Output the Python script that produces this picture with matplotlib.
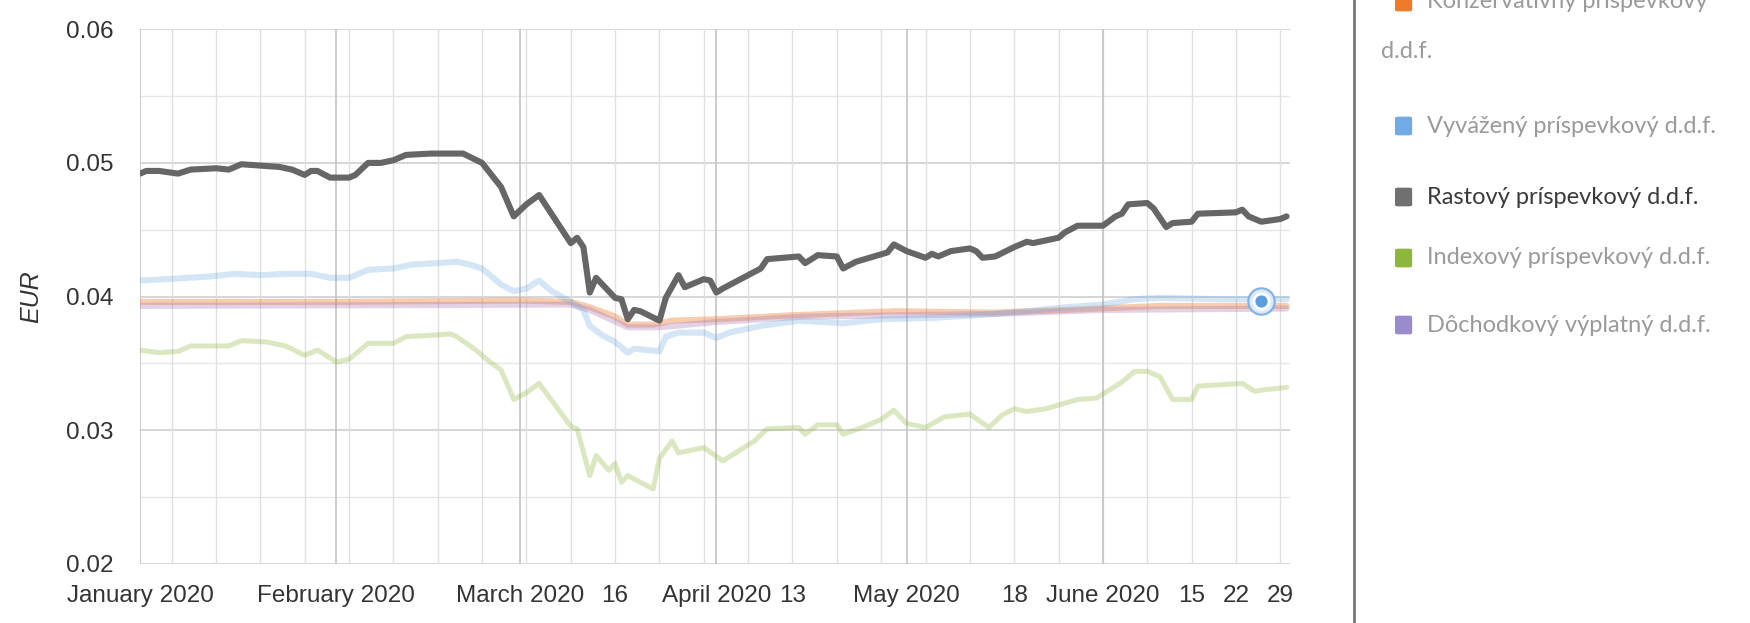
#!/usr/bin/env python3
"""Pension fund unit values (EUR), Jan-Jun 2020, with a side legend."""
import matplotlib
matplotlib.use("Agg")
import matplotlib.pyplot as plt
import pandas as pd
from matplotlib.patches import FancyBboxPatch
from matplotlib.lines import Line2D

# ── data (date "MM-DD" of 2020, value in EUR) ──────────────────────────────
GROWTH_DATES = [
    "01-01", "01-02", "01-04", "01-07", "01-09", "01-13", "01-15", "01-17",
    "01-20", "01-23", "01-25", "01-27", "01-28", "01-29", "01-31", "02-03",
    "02-04", "02-06", "02-08", "02-10", "02-12", "02-16", "02-19", "02-21",
    "02-24", "02-26", "02-27", "02-29", "03-02", "03-04", "03-09",
    "03-10", "03-11", "03-12", "03-13", "03-16", "03-17", "03-18", "03-19",
    "03-20", "03-23", "03-24", "03-26", "03-27", "03-30", "03-31", "04-01",
    "04-02", "04-06", "04-08", "04-09", "04-14", "04-15", "04-17", "04-20",
    "04-21", "04-23", "04-28", "04-29", "05-01", "05-04", "05-05", "05-06",
    "05-08", "05-11", "05-12", "05-13", "05-15", "05-18", "05-19", "05-20",
    "05-21", "05-25", "05-26", "05-28", "06-01", "06-03", "06-04", "06-05",
    "06-08", "06-09", "06-11", "06-12", "06-15", "06-16", "06-22", "06-23",
    "06-24", "06-26", "06-29", "06-30",
]
GROWTH_VALUES = [
    0.0492, 0.0494, 0.0494, 0.0492, 0.0495, 0.0496, 0.0495, 0.0499,
    0.0498, 0.0497, 0.0495, 0.0491, 0.0494, 0.0494, 0.0489, 0.0489,
    0.0491, 0.0500, 0.0500, 0.0502, 0.0506, 0.0507, 0.0507, 0.0507,
    0.0500, 0.0488, 0.0482, 0.0460, 0.0469, 0.0476, 0.0440,
    0.0444, 0.0437, 0.0403, 0.0414, 0.0399, 0.0398, 0.0383, 0.0390,
    0.0389, 0.0382, 0.0399, 0.0416, 0.0407, 0.0413, 0.0412, 0.0403,
    0.0406, 0.0416, 0.0421, 0.0428, 0.0430, 0.0425, 0.0431, 0.0430,
    0.0421, 0.0426, 0.0433, 0.0439, 0.0434, 0.0429, 0.0432, 0.0430,
    0.0434, 0.0436, 0.0434, 0.0429, 0.0430, 0.0437, 0.0439, 0.0441,
    0.0440, 0.0444, 0.0448, 0.0453, 0.0453, 0.0460, 0.0462, 0.0469,
    0.0470, 0.0466, 0.0452, 0.0455, 0.0456, 0.0462, 0.0463, 0.0465,
    0.0460, 0.0456, 0.0458, 0.0460,
]

BALANCED_DATES = [
    "01-01", "01-05", "01-12", "01-16", "01-20", "01-24", "01-28", "01-31",
    "02-03", "02-06", "02-10", "02-13", "02-17", "02-20", "02-22", "02-24",
    "02-27", "02-29", "03-02", "03-04", "03-06", "03-09", "03-11", "03-12",
    "03-14", "03-16", "03-18", "03-19", "03-23", "03-24", "03-26", "03-30",
    "04-01", "04-03", "04-08", "04-14", "04-21", "04-27", "05-05", "05-12",
    "05-20", "05-26", "06-01", "06-06", "06-10", "06-20", "06-30",
]
BALANCED_VALUES = [
    0.0412, 0.0413, 0.0415, 0.0417, 0.0416, 0.0417, 0.0417, 0.0414,
    0.0414, 0.0420, 0.0421, 0.0424, 0.0425, 0.0426, 0.0424, 0.0421,
    0.0409, 0.0404, 0.0406, 0.0412, 0.0404, 0.0396, 0.0390, 0.0378,
    0.0371, 0.0366, 0.0358, 0.0361, 0.0359, 0.0370, 0.0373, 0.0373,
    0.0369, 0.0373, 0.0378, 0.0382, 0.0380, 0.0383, 0.0384, 0.0386,
    0.0389, 0.0392, 0.0394, 0.0398, 0.0399, 0.0398, 0.0398,
]

CONSERVATIVE_DATES = [
    "01-01", "02-01", "03-01", "03-09", "03-12", "03-16", "03-18", "03-22",
    "03-25", "04-01", "04-13", "04-29", "05-15", "05-26", "06-10", "06-30",
]
CONSERVATIVE_VALUES = [
    0.0396, 0.0396, 0.0397, 0.0396, 0.0392, 0.0385, 0.0379, 0.0379,
    0.0382, 0.0383, 0.0386, 0.0389, 0.0388, 0.0390, 0.0393, 0.0393,
]

PAYOUT_DATES = [
    "01-01", "03-09", "03-12", "03-18", "03-23", "04-01", "04-15", "05-15",
    "06-01", "06-30",
]
PAYOUT_VALUES = [
    0.0393, 0.0394, 0.0390, 0.0377, 0.0377, 0.0381, 0.0385, 0.0387,
    0.0390, 0.0391,
]

INDEX_DATES = [
    "01-01", "01-04", "01-07", "01-09", "01-15", "01-17", "01-21", "01-24",
    "01-27", "01-29", "02-01", "02-03", "02-06", "02-10", "02-12", "02-16",
    "02-19", "02-20", "02-23", "02-25", "02-27", "02-29", "03-02", "03-04",
    "03-09", "03-10", "03-12", "03-13", "03-15", "03-16", "03-17", "03-18",
    "03-22", "03-23", "03-25", "03-26", "03-30", "04-02", "04-07", "04-09",
    "04-14", "04-15", "04-17", "04-20", "04-21", "04-24", "04-27", "04-29",
    "05-01", "05-04", "05-07", "05-11", "05-14", "05-16", "05-18", "05-20",
    "05-23", "05-28", "05-31", "06-04", "06-06", "06-08", "06-10", "06-12",
    "06-15", "06-16", "06-23", "06-25", "06-26", "06-30",
]
INDEX_VALUES = [
    0.0360, 0.0358, 0.0359, 0.0363, 0.0363, 0.0367, 0.0366, 0.0363,
    0.0356, 0.0360, 0.0351, 0.0353, 0.0365, 0.0365, 0.0370, 0.0371,
    0.0372, 0.0370, 0.0360, 0.0352, 0.0345, 0.0323, 0.0328, 0.0335,
    0.0303, 0.0301, 0.0266, 0.0281, 0.0270, 0.0275, 0.0261, 0.0266,
    0.0256, 0.0279, 0.0292, 0.0283, 0.0287, 0.0277, 0.0292, 0.0301,
    0.0302, 0.0297, 0.0304, 0.0304, 0.0297, 0.0302, 0.0308, 0.0315,
    0.0305, 0.0302, 0.0310, 0.0312, 0.0302, 0.0311, 0.0316, 0.0314,
    0.0316, 0.0323, 0.0324, 0.0336, 0.0344, 0.0344, 0.0340, 0.0323,
    0.0323, 0.0333, 0.0335, 0.0329, 0.0330, 0.0332,
]

HOVER_DATE = "06-26"
HOVER_VALUE = 0.0397

LEGEND_LABELS = [
    "Konzervatívny príspevkový\nd.d.f.",
    "Vyvážený príspevkový d.d.f.",
    "Rastový príspevkový d.d.f.",
    "Indexový príspevkový d.d.f.",
    "Dôchodkový výplatný d.d.f.",
]
LEGEND_COLORS = ["#ee7a2a", "#72abe3", "#707070", "#8db63c", "#998bcc"]

Y_TICKS = [0.02, 0.03, 0.04, 0.05, 0.06]
EXTRA_TICKS = ["03-16", "04-13", "05-18", "06-15", "06-22", "06-29"]


def to_dates(days):
    return pd.to_datetime(["2020-" + d for d in days])


def main():
    plt.rcParams["font.family"] = ["Liberation Sans", "DejaVu Sans"]

    fig = plt.figure(figsize=(17.5, 6.23), dpi=100)
    ax = fig.add_axes([0.080, 0.095, 0.657, 0.858])

    # faded series first, highlighted (hovered) series last
    ax.plot(to_dates(CONSERVATIVE_DATES), CONSERVATIVE_VALUES,
            color=LEGEND_COLORS[0], alpha=0.38, lw=4.4, solid_capstyle="round")
    ax.plot(to_dates(PAYOUT_DATES), PAYOUT_VALUES,
            color="#b07fb8", alpha=0.35, lw=4.4, solid_capstyle="round")
    ax.plot(to_dates(BALANCED_DATES), BALANCED_VALUES,
            color=LEGEND_COLORS[1], alpha=0.3, lw=4.4, solid_capstyle="round")
    ax.plot(to_dates(INDEX_DATES), INDEX_VALUES,
            color=LEGEND_COLORS[3], alpha=0.32, lw=3.6, solid_capstyle="round")
    ax.plot(to_dates(GROWTH_DATES), GROWTH_VALUES,
            color="#666666", lw=4.4, solid_joinstyle="round",
            solid_capstyle="round")

    # hover marker with halo
    hx = to_dates([HOVER_DATE])[0]
    ax.plot([hx], [HOVER_VALUE], "o", ms=19, mfc="#dce9f8", mec="#7fb1e6",
            mew=1.5, zorder=5)
    ax.plot([hx], [HOVER_VALUE], "o", ms=11, mfc="#5c9ddf", mec="white",
            mew=2.2, zorder=6)

    # axes limits / grid
    ax.set_xlim(pd.Timestamp("2020-01-01"), pd.Timestamp("2020-06-30 12:00"))
    ax.set_ylim(0.02, 0.06)
    for s in ax.spines.values():
        s.set_visible(False)

    for y in [0.025, 0.035, 0.045, 0.055]:
        ax.axhline(y, color="#e6e6e6", lw=1.0, zorder=0)
    for y in Y_TICKS:
        ax.axhline(y, color="#cfcfcf", lw=1.2, zorder=0)
    for d in pd.date_range("2020-01-06", "2020-06-29", freq="W-MON"):
        ax.axvline(d, color="#e0e0e0", lw=1.0, zorder=0)
    months = pd.date_range("2020-01-01", "2020-06-01", freq="MS")
    for d in months:
        ax.axvline(d, color="#c4c4c4", lw=1.2, zorder=0)

    # ticks
    extra = to_dates(EXTRA_TICKS)
    ax.set_xticks(list(months) + list(extra))
    ax.set_xticklabels([d.strftime("%B %Y") for d in months]
                       + [str(d.day) for d in extra])
    ax.set_yticks(Y_TICKS)
    ax.set_yticklabels([f"{v:.2f}" for v in Y_TICKS])
    ax.tick_params(axis="both", length=0, labelsize=17.5, colors="#333333")
    ax.tick_params(axis="y", pad=19)
    ax.tick_params(axis="x", pad=15)
    ax.set_ylabel("EUR", fontsize=18, style="italic", color="#333333")
    ax.yaxis.set_label_coords(-0.084, 0.5)

    # separator line and legend
    fig.add_artist(Line2D([0.7735, 0.7735], [0.0, 1.0], color="#777777",
                          lw=2.0, transform=fig.transFigure))
    row_px = [2, 126, 197, 258, 325]
    lx_sq, lx_tx = 1395 / 1750, 1427 / 1750
    leg_font = ["Lato", "DejaVu Sans"]
    for i, (lab, col) in enumerate(zip(LEGEND_LABELS, LEGEND_COLORS)):
        yf = 1 - row_px[i] / 623
        fig.add_artist(FancyBboxPatch(
            (lx_sq, yf - 0.015), 0.0098, 0.030,
            boxstyle="round,pad=0,rounding_size=0.002",
            transform=fig.transFigure, facecolor=col, edgecolor="none"))
        tcol = "#3a3a3a" if i == 2 else "#9a9a9a"
        lines = lab.split("\n")
        fig.text(lx_tx, yf, lines[0], fontsize=17, color=tcol,
                 va="center", ha="left", family=leg_font)
        if len(lines) > 1:
            fig.text(1381 / 1750, 1 - 52 / 623, lines[1], fontsize=17,
                     color=tcol, va="center", ha="left", family=leg_font)

    fig.savefig("out.png", dpi=100, facecolor="white")


if __name__ == "__main__":
    main()
